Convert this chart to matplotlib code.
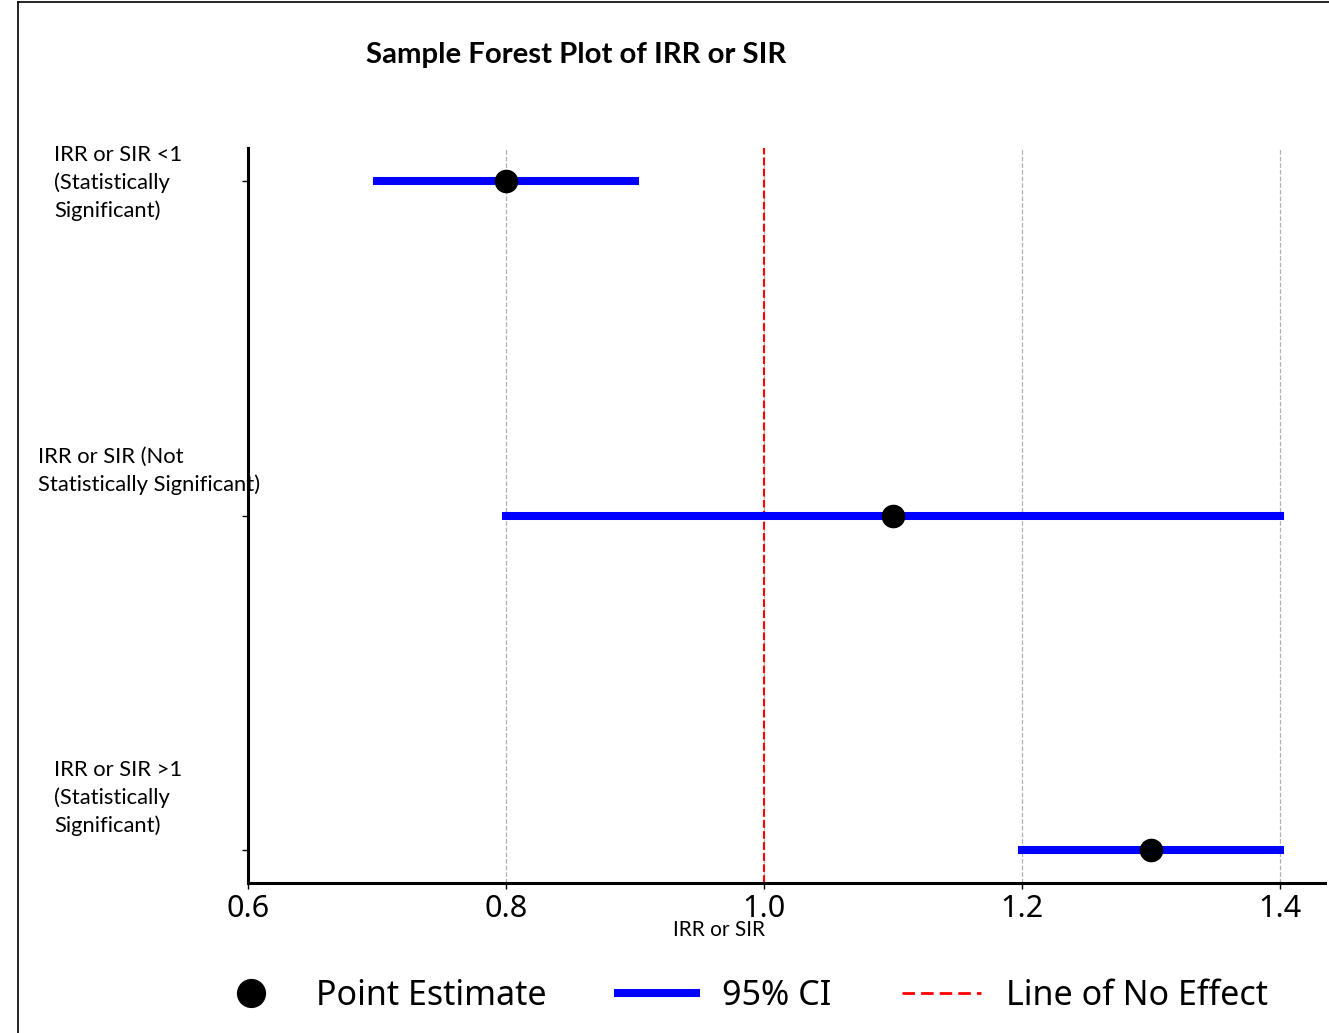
import matplotlib.pyplot as plt
from matplotlib.lines import Line2D

# data
labels = ['IRR or SIR <1\n(Statistically\nSignificant)',
          'IRR or SIR (Not\nStatistically Significant)',
          'IRR or SIR >1\n(Statistically\nSignificant)']
estimates = [0.8, 1.1, 1.3]
ci_low = [0.7, 0.8, 1.2]
ci_high = [0.9, 1.4, 1.4]
x_ticks = [0.6, 0.8, 1.0, 1.2, 1.4]
no_effect = 1.0

W, H = 1329, 1033
fig = plt.figure(figsize=(W / 100, H / 100), dpi=100)
ax = fig.add_axes([248 / W, 1 - 883 / H, 1077 / W, 735 / H])

rows = list(range(len(labels)))
for r in rows:
    ax.plot([ci_low[r], ci_high[r]], [r, r], color='blue', lw=5.8,
            solid_capstyle='projecting', zorder=3)
ax.plot(estimates, rows, 'o', color='black', ms=16, ls='none', zorder=4)
ax.axvline(no_effect, color='red', ls='--', lw=1.5, zorder=2)

ax.set_xlim(0.6, 1.435)
ax.set_ylim(len(labels) - 0.9, -0.1)
ax.set_xticks(x_ticks)
ax.set_xticklabels([f'{t:.1f}' for t in x_ticks],
                   fontsize=22, family='Noto Sans')
ax.set_yticks(rows)
ax.set_yticklabels([])
ax.grid(axis='x', color='#b0b0b0', ls='--', lw=0.9, zorder=0)
ax.tick_params(axis='both', length=4, width=1, pad=4)
for s in ['top', 'right']:
    ax.spines[s].set_visible(False)
for s in ['left', 'bottom']:
    ax.spines[s].set_linewidth(2.2)

# category labels, left of the axis
label_x = [54, 38, 54]
label_y = [183, 471, 798]
for i, lab in enumerate(labels):
    fig.text(label_x[i] / W, 1 - label_y[i] / H, lab, ha='left', va='center',
             fontsize=15.8, family='Lato', linespacing=1.42)

fig.text(719 / W, 1 - 930 / H, 'IRR or SIR', ha='center', va='center',
         fontsize=15, family='Lato')
fig.text(576 / W, 1 - 55 / H, 'Sample Forest Plot of IRR or SIR',
         ha='center', va='center', fontsize=21.2, family='Lato',
         weight='bold')

handles = [Line2D([], [], marker='o', color='black', ls='none', ms=20),
           Line2D([], [], color='blue', lw=5.8),
           Line2D([], [], color='red', ls=(0, (4.5, 2.2)), lw=2)]
fig.legend(handles, ['Point Estimate', '95% CI', 'Line of No Effect'],
           loc='center left', bbox_to_anchor=(212 / W, 1 - 996 / H),
           ncol=3, frameon=False, prop={'family': 'Noto Sans', 'size': 24.5},
           handlelength=2.3, handletextpad=0.75, columnspacing=2.1,
           borderpad=0, borderaxespad=0)

# frame around the picture
fig.add_artist(Line2D([18 / W, 18 / W], [0, 1 - 2 / H], color='black', lw=1.2))
fig.add_artist(Line2D([18 / W, 1], [1 - 2 / H, 1 - 2 / H], color='black', lw=1.2))

fig.savefig('out.png', dpi=100)
